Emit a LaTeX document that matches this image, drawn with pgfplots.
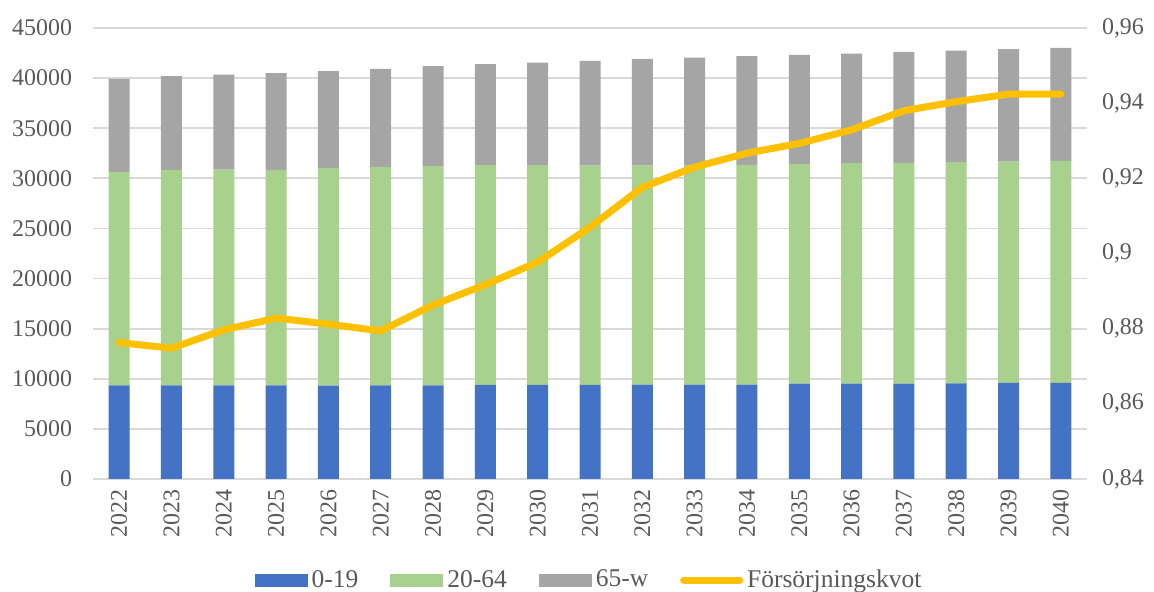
\documentclass[border=0pt]{standalone}
\usepackage{pgfplots}
\usepackage{pgfplotstable}
\pgfplotsset{compat=1.18}
\usepackage{fontspec}
\setmainfont{Liberation Serif}
\definecolor{cBlue}{HTML}{4472C4}
\definecolor{cGreen}{HTML}{A9D18E}
\definecolor{cGray}{HTML}{A5A5A5}
\definecolor{cYellow}{HTML}{FFC000}
\definecolor{cText}{HTML}{595959}
\definecolor{cGrid}{HTML}{D9D9D9}
\pgfplotsset{
  boxlegend/.style={legend image code/.code={\fill[##1] (0bp,-3.25bp) rectangle (26.5bp,3.25bp);}},
  linelegend/.style={legend image code/.code={\draw[##1] (0bp,0bp) -- (28bp,0bp);}},
}

\pgfplotstableread{
x b g o r
0 9350 21290 9280 0.8763
1 9350 21460 9380 0.8748
2 9350 21520 9480 0.8797
3 9350 21490 9650 0.8828
4 9310 21700 9680 0.8812
5 9350 21790 9780 0.8794
6 9350 21860 9980 0.8863
7 9380 21930 10080 0.8917
8 9380 21930 10240 0.8977
9 9380 21890 10450 0.9070
10 9410 21860 10650 0.9176
11 9410 21930 10710 0.9230
12 9410 21930 10850 0.9267
13 9510 21930 10880 0.9293
14 9510 22000 10940 0.9329
15 9510 22030 11080 0.9380
16 9550 22060 11140 0.9404
17 9580 22090 11220 0.9424
18 9580 22160 11280 0.9424
}\data

\begin{document}
\begin{tikzpicture}
\useasboundingbox (-46.5bp,-56.5bp) rectangle (530.5bp,239.5bp);
\begin{axis}[
  scale only axis, width=497bp, height=225.5bp,
  ybar stacked, bar width=10.5bp,
  xmin=-0.5, xmax=18.5, ymin=0, ymax=45000,
  xtick={0,...,18},
  xticklabels={2022,2023,2024,2025,2026,2027,2028,2029,2030,2031,2032,2033,2034,2035,2036,2037,2038,2039,2040},
  ytick={0,5000,10000,15000,20000,25000,30000,35000,40000,45000},
  scaled y ticks=false,
  ymajorgrids, grid style={cGrid, line width=0.9bp},
  axis line style={draw=none},
  major tick length=0,
  tick label style={font=\fontsize{12}{14}\selectfont, text=cText},
  x tick label style={rotate=90, anchor=east, xshift=-2bp},
  y tick label style={anchor=east, xshift=-7bp},
  /pgf/number format/set thousands separator={},
  /pgf/number format/assume math mode=true,
]
\addplot[fill=cBlue, draw=none] table[x=x,y=b]{\data};
\addplot[fill=cGreen, draw=none] table[x=x,y=g]{\data};
\addplot[fill=cGray, draw=none] table[x=x,y=o]{\data};
\end{axis}
\begin{axis}[
  scale only axis, width=497bp, height=225.5bp,
  xmin=-0.5, xmax=18.5, ymin=0.84, ymax=0.96,
  axis y line*=right, axis x line=none,
  ytick={0.84,0.86,0.88,0.9,0.92,0.94,0.96},
  axis line style={draw=none},
  major tick length=0,
  tick label style={font=\fontsize{12}{14}\selectfont, text=cText},
  y tick label style={anchor=west, xshift=4bp},
  /pgf/number format/use comma,
  /pgf/number format/assume math mode=true,
  legend columns=4,
  legend style={at={(0.5,-0.224)}, anchor=center, draw=none, fill=none,
    font=\fontsize{12.8}{14}\selectfont, text=cText,
    /tikz/every even column/.append style={column sep=14bp}},
]
\addlegendimage{fill=cBlue, draw=none, boxlegend}
\addlegendentry{0-19}
\addlegendimage{fill=cGreen, draw=none, boxlegend}
\addlegendentry{20-64}
\addlegendimage{fill=cGray, draw=none, boxlegend}
\addlegendentry{65-w}
\addplot[cYellow, line width=3.5bp, line join=round, line cap=round, linelegend] table[x=x,y=r]{\data};
\addlegendentry{Försörjningskvot}
\end{axis}
\end{tikzpicture}
\end{document}
